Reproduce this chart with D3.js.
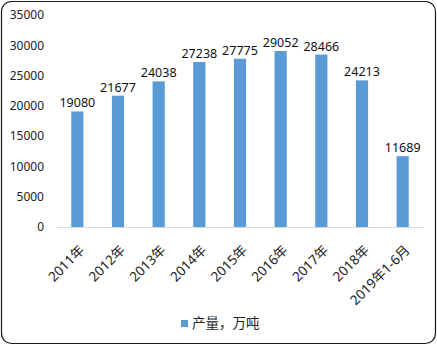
<!DOCTYPE html>
<html>
<head>
<meta charset="utf-8">
<script src="https://cdn.jsdelivr.net/npm/d3@7"></script>
<style>
  body { margin: 0; background: #fff; }
  text { font-family: "Noto Sans", "Noto Sans CJK SC", sans-serif; }
</style>
</head>
<body>
<div id="chart"></div>
<script>
// data
const categories = ["2011年", "2012年", "2013年", "2014年", "2015年", "2016年", "2017年", "2018年", "2019年1-6月"];
const output = [19080, 21677, 24038, 27238, 27775, 29052, 28466, 24213, 11689];
const yTicks = [0, 5000, 10000, 15000, 20000, 25000, 30000, 35000];
const seriesName = "产量，万吨";

const W = 437, H = 345;
let margin = { top: 15, left: 57, right: 14, bottom: 118 },
  width = W - margin.left - margin.right,
  height = H - margin.top - margin.bottom;

let svg = d3.select("#chart").append("svg")
  .attr("width", W)
  .attr("height", H);

// chart frame
svg.append("rect")
  .attr("x", 1.5).attr("y", 1.5)
  .attr("width", W - 3).attr("height", H - 3)
  .attr("rx", 10)
  .attr("fill", "#fff")
  .attr("stroke", "#1a1a1a")
  .attr("stroke-width", 1.2);

let g = svg.append("g")
  .attr("transform", "translate(" + margin.left + "," + margin.top + ")");

let xScale = d3.scaleBand()
  .domain(categories)
  .range([0, width])
  .paddingInner(0.7)
  .paddingOuter(0.35);

let yScale = d3.scaleLinear()
  .domain([0, 35000])
  .range([height, 0]);

// y axis labels only
let yAxis = g.append("g")
  .call(d3.axisLeft(yScale).tickValues(yTicks).tickFormat(d3.format("d")).tickSize(0).tickPadding(13));
yAxis.select(".domain").remove();
yAxis.selectAll("text")
  .attr("font-size", 12)
  .attr("fill", "#222");

// bars
g.append("g")
  .attr("fill", "#5B9BD5")
  .selectAll("rect")
  .data(output)
  .enter().append("rect")
    .attr("x", (d, i) => xScale(categories[i]))
    .attr("y", d => yScale(d))
    .attr("width", xScale.bandwidth())
    .attr("height", d => height - yScale(d));

// data labels
g.append("g")
  .selectAll("text")
  .data(output)
  .enter().append("text")
    .attr("x", (d, i) => xScale(categories[i]) + xScale.bandwidth() / 2)
    .attr("y", d => yScale(d) - 4)
    .attr("text-anchor", "middle")
    .attr("font-size", 12.5)
    .attr("fill", "#111")
    .text(d => d);

// x axis
let xAxis = g.append("g")
  .attr("transform", "translate(0," + height + ")")
  .call(d3.axisBottom(xScale).tickSize(0).tickPadding(0));
xAxis.select(".domain")
  .attr("stroke", "#d9d9d9");
xAxis.selectAll("text")
  .attr("font-size", 13.5)
  .attr("fill", "#222")
  .attr("text-anchor", "end")
  .attr("dy", 0)
  .attr("transform", "translate(8,24) rotate(-45)");

// legend
let legend = svg.append("g")
  .attr("transform", "translate(181,320)");
legend.append("rect")
  .attr("width", 7).attr("height", 7)
  .attr("fill", "#5B9BD5");
legend.append("text")
  .attr("x", 11).attr("y", 8)
  .attr("font-size", 13.5)
  .attr("fill", "#222")
  .text(seriesName);
</script>
</body>
</html>
